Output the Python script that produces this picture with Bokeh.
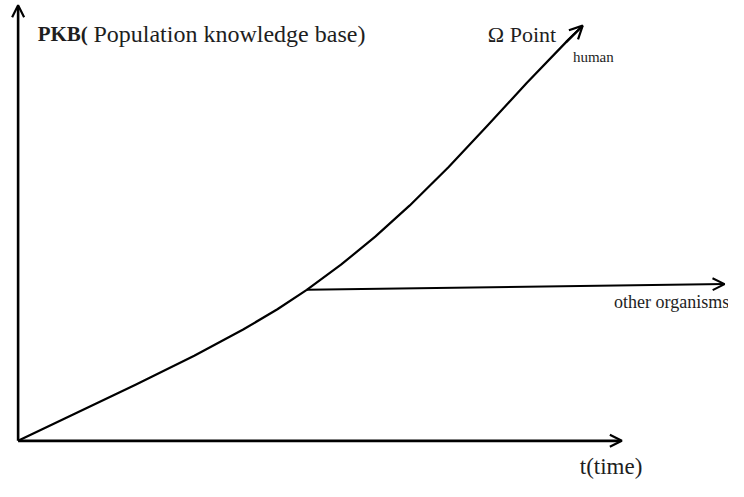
from bokeh.plotting import figure
from bokeh.models import Range1d, Arrow, OpenHead, Label
from bokeh.embed import file_html
from bokeh.resources import INLINE

# ---- data (time units, knowledge units) ----
time_human = [0, 60, 120, 180, 230, 265, 295, 330, 365, 400, 440, 480, 520, 560, 577]
pkb_human = [0, 29, 58, 88, 115, 136, 156, 182, 211, 243, 283, 326, 370, 412, 429]
time_other = [295, 722]
pkb_other = [156, 162]
axis_t_max = 617
axis_pkb_max = 450

title_bold = "PKB("
title_rest = "Population knowledge base)"
omega_label = "Ω Point"
human_label = "human"
other_label = "other organisms"
time_label = "t(time)"

W, H = 728, 481
p = figure(width=W, height=H, output_backend="svg", toolbar_location=None,
           x_range=Range1d(-18, 726), y_range=Range1d(-42, 455),
           min_border=0, min_border_left=0, min_border_right=0,
           min_border_top=0, min_border_bottom=0)
p.axis.visible = False
p.grid.visible = False
p.outline_line_color = None
p.background_fill_color = "white"

# axes as arrows
p.add_layout(Arrow(end=OpenHead(size=12, line_width=2.2, line_color="black"),
                   x_start=0, y_start=0, x_end=axis_t_max, y_end=0,
                   line_width=2.6, line_color="black"))
p.add_layout(Arrow(end=OpenHead(size=12, line_width=2.2, line_color="black"),
                   x_start=0, y_start=0, x_end=0, y_end=axis_pkb_max,
                   line_width=2.6, line_color="black"))

# human curve
p.line(time_human, pkb_human, line_width=2.2, line_color="black", line_join="round")
p.add_layout(Arrow(end=OpenHead(size=13, line_width=2.2, line_color="black"),
                   x_start=time_human[-2], y_start=pkb_human[-2],
                   x_end=time_human[-1], y_end=pkb_human[-1],
                   line_width=2.2, line_color="black"))

# other organisms branch
p.add_layout(Arrow(end=OpenHead(size=12, line_width=2, line_color="black"),
                   x_start=time_other[0], y_start=pkb_other[0],
                   x_end=time_other[-1], y_end=pkb_other[-1],
                   line_width=2, line_color="black"))

font = "Liberation Serif"
col = "#1e1e1e"
p.add_layout(Label(x=20, y=420, text=title_bold, text_font=font, text_font_size="21px",
                   text_font_style="bold", text_color=col, text_baseline="alphabetic"))
p.add_layout(Label(x=77, y=420, text=title_rest, text_font=font, text_font_size="24px",
                   text_color=col, text_baseline="alphabetic"))
p.add_layout(Label(x=480, y=420, text=omega_label, text_font=font, text_font_size="22px",
                   text_color=col, text_baseline="alphabetic"))
p.add_layout(Label(x=567, y=397, text=human_label, text_font=font, text_font_size="15px",
                   text_color=col, text_baseline="alphabetic"))
p.add_layout(Label(x=609, y=143, text=other_label, text_font=font, text_font_size="18px",
                   text_color=col, text_baseline="alphabetic"))
p.add_layout(Label(x=574, y=-27, text=time_label, text_font=font, text_font_size="23px",
                   text_color=col, text_baseline="alphabetic"))

open("out.html", "w").write(file_html(p, INLINE))
